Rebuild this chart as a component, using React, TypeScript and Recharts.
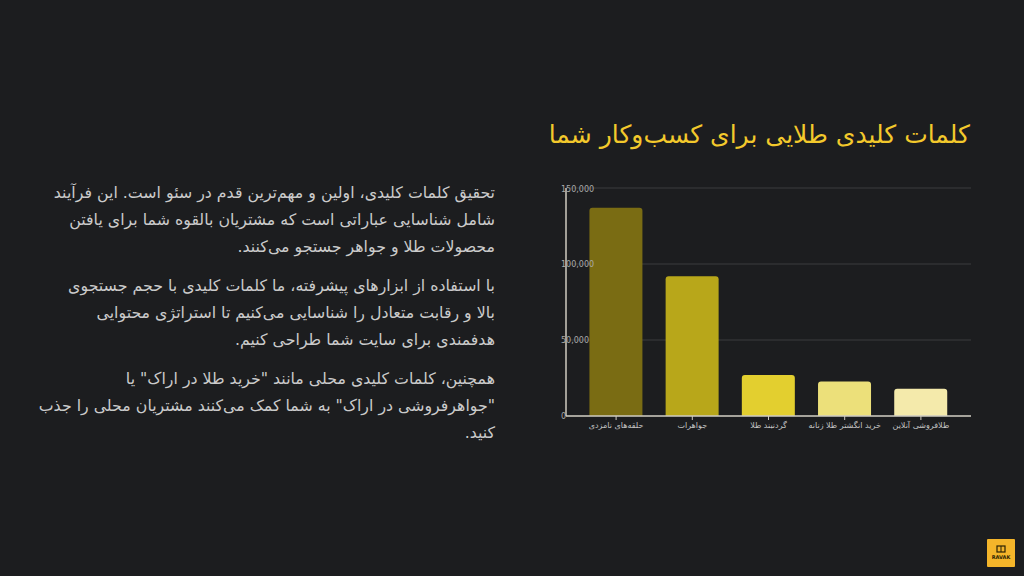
import React from "react";
import { BarChart, Bar, XAxis, YAxis, CartesianGrid, Cell } from "recharts";

const categories = [
  "حلقه‌های نامزدی",
  "جواهرات",
  "گردنبند طلا",
  "خرید انگشتر طلا زنانه",
  "طلافروشی آنلاین",
];
const searchVolumes = [137000, 92000, 27000, 22700, 18000];
const barColors = ["#7a6c13", "#b8a71a", "#e3cf2f", "#ece07a", "#f4eaab"];
const yTicks = [0, 50000, 100000, 150000];

const title = "کلمات کلیدی طلایی برای کسب‌وکار شما";
const paragraphs: string[][] = [
  [
    "تحقیق کلمات کلیدی، اولین و مهم‌ترین قدم در سئو است. این فرآیند",
    "شامل شناسایی عباراتی است که مشتریان بالقوه شما برای یافتن",
    "محصولات طلا و جواهر جستجو می‌کنند.",
  ],
  [
    "با استفاده از ابزارهای پیشرفته، ما کلمات کلیدی با حجم جستجوی",
    "بالا و رقابت متعادل را شناسایی می‌کنیم تا استراتژی محتوایی",
    "هدفمندی برای سایت شما طراحی کنیم.",
  ],
  [
    "همچنین، کلمات کلیدی محلی مانند \"خرید طلا در اراک\" یا",
    "\"جواهرفروشی در اراک\" به شما کمک می‌کنند مشتریان محلی را جذب",
    "کنید.",
  ],
];

const data = categories.map((name, i) => ({ name, value: searchVolumes[i] }));

const FONT = "'DejaVu Sans', sans-serif";

const YTick = (props: any) => {
  const { x, y, payload } = props;
  return (
    <text x={x - 5} y={y} dy={3} textAnchor="start" fill="#a9a9a9" fontSize={8} fontFamily={FONT}>
      {Number(payload.value).toLocaleString("en-US")}
    </text>
  );
};

const XTick = (props: any) => {
  const { x, y, payload } = props;
  return (
    <text x={x} y={y} dy={6} textAnchor="middle" fill="#c4c4c4" fontSize={8} fontFamily={FONT}>
      {payload.value}
    </text>
  );
};

export default function App() {
  return (
    <div
      style={{
        position: "absolute",
        left: 0,
        top: 0,
        width: 1024,
        height: 576,
        background: "#1c1d1f",
        overflow: "hidden",
        fontFamily: FONT,
      }}
    >
      <div
        style={{
          position: "absolute",
          right: 54,
          top: 117,
          fontSize: 25,
          lineHeight: "36px",
          color: "#f3c92c",
          direction: "rtl",
          whiteSpace: "nowrap",
        }}
      >
        {title}
      </div>

      <div
        style={{
          position: "absolute",
          right: 529,
          top: 179,
          width: 470,
          direction: "rtl",
          textAlign: "right",
          color: "#cbcbcb",
          fontSize: 15.8,
          lineHeight: "27px",
        }}
      >
        {paragraphs.map((p, i) => (
          <div key={i} style={{ marginBottom: 12 }}>
            {p.map((line, j) => (
              <div key={j} style={{ whiteSpace: "nowrap" }}>
                {line}
              </div>
            ))}
          </div>
        ))}
      </div>

      <div style={{ position: "absolute", left: 540, top: 180 }}>
        <BarChart
          width={450}
          height={260}
          data={data}
          margin={{ top: 8, right: 19, bottom: 0, left: 0 }}
          barCategoryGap="15%"
        >
          <CartesianGrid horizontal vertical={false} stroke="#3b3c3f" strokeWidth={1} />
          <XAxis
            dataKey="name"
            height={24}
            padding={{ left: 12, right: 12 }}
            axisLine={{ stroke: "#cfcbc0", strokeWidth: 1.5 }}
            tickLine={{ stroke: "#cfcbc0" }}
            tickSize={4}
            tick={<XTick />}
            interval={0}
          />
          <YAxis
            width={26}
            domain={[0, 150000]}
            ticks={yTicks}
            axisLine={{ stroke: "#cfcbc0", strokeWidth: 1.5 }}
            tickLine={false}
            tickSize={0}
            tickMargin={0}
            tick={<YTick />}
          />
          <Bar dataKey="value" radius={[3, 3, 0, 0]} isAnimationActive={false}>
            {data.map((d, i) => (
              <Cell key={d.name} fill={barColors[i]} />
            ))}
          </Bar>
        </BarChart>
      </div>

      <div
        style={{
          position: "absolute",
          left: 987,
          top: 539,
          width: 28,
          height: 28,
          background: "#f4b52a",
          borderRadius: 1,
        }}
      >
        <svg width={28} height={28}>
          <rect x={10} y={7} width={8} height={6} fill="none" stroke="#2a2204" strokeWidth={1.2} />
          <line x1={14} y1={7} x2={14} y2={13} stroke="#2a2204" strokeWidth={1} />
          <text x={14} y={20} textAnchor="middle" fontSize={5} fontWeight="bold" fill="#2a2204" fontFamily={FONT}>
            RAVAK
          </text>
        </svg>
      </div>
    </div>
  );
}
